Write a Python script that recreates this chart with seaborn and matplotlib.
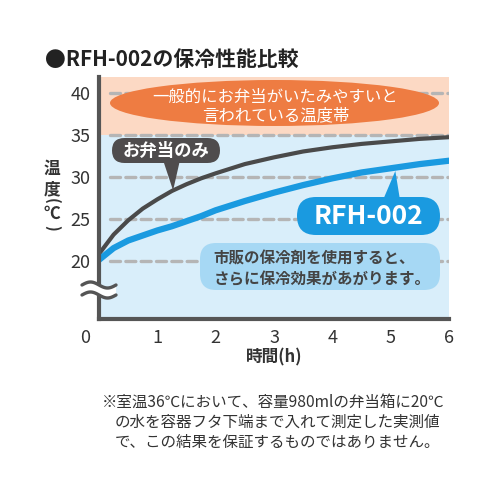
import matplotlib

matplotlib.use("Agg")
import matplotlib.pyplot as plt
import numpy as np
import pandas as pd
import seaborn as sns
from matplotlib.lines import Line2D
from matplotlib.patches import Ellipse, FancyBboxPatch, Polygon
from matplotlib.transforms import ScaledTranslation

# values
HOURS = [0, 0.25, 0.5, 0.75, 1, 1.25, 1.5, 1.75, 2, 2.5, 3, 3.5, 4, 4.5, 5, 5.5, 6]
LUNCH_ONLY = [20.8, 23.1, 24.8, 26.2, 27.3, 28.3, 29.1, 29.8, 30.4, 31.5, 32.3,
              33.0, 33.5, 33.9, 34.2, 34.5, 34.7]
RFH_002 = [20.1, 21.5, 22.4, 23.0, 23.6, 24.1, 24.7, 25.3, 26.0, 27.1, 28.1,
           29.0, 29.8, 30.5, 31.0, 31.5, 31.9]
Y_TICKS = [20, 25, 30, 35, 40]
X_TICKS = [0, 1, 2, 3, 4, 5, 6]
DANGER_FROM = 35

TITLE = "●RFH-002の保冷性能比較"
DANGER_TEXT = "一般的にお弁当がいたみやすいと\n言われている温度帯"
ICE_TEXT = "市販の保冷剤を使用すると、\nさらに保冷効果があがります。"
NOTES = [
    "※室温36℃において、容量980mlの弁当箱に20℃",
    "の水を容器フタ下端まで入れて測定した実測値",
    "で、この結果を保証するものではありません。",
]

DARK = "#555555"
TEXT = "#333333"
ORANGE_BAND = "#fcd9c4"
BLUE_BAND = "#d9eefa"
ORANGE = "#ee7c42"
BLUE = "#1a9ae0"
LIGHT_BOX = "#a6d8f4"
GREY_BOX = "#4f4c4d"
DASH = "#b5b5b5"

sns.set_theme(style="white")
plt.rcParams["font.family"] = ["Noto Sans CJK JP", "DejaVu Sans"]


def fxy(x, y):
    """Pixel position on the 500x500 canvas -> figure fraction."""
    return x / 500, 1 - y / 500


fig = plt.figure(figsize=(5, 5), dpi=100)
ax = fig.add_axes([99 / 500, 1 - 319 / 500, 350 / 500, 242.3 / 500])
ax.set_xlim(0, 6)
ax.set_ylim(13.06, 41.9)

ax.axhspan(DANGER_FROM, 41.9, color=ORANGE_BAND, lw=0, zorder=0)
ax.axhspan(13.06, DANGER_FROM, color=BLUE_BAND, lw=0, zorder=0)
for level in Y_TICKS:
    ax.axhline(level, xmin=0.03, color=DASH, lw=2.4, ls=(0, (3.0, 1.6)),
               dash_capstyle="round", zorder=1)

df = pd.DataFrame({
    "hours": HOURS * 2,
    "temp": LUNCH_ONLY + RFH_002,
    "series": ["お弁当のみ"] * len(HOURS) + ["RFH-002"] * len(HOURS),
})
sns.lineplot(data=df[df["series"] == "お弁当のみ"], x="hours", y="temp",
             color="#4a4a4a", lw=3.0, estimator=None, ax=ax, zorder=5)
sns.lineplot(data=df[df["series"] == "RFH-002"], x="hours", y="temp",
             color=BLUE, lw=4.5, estimator=None, ax=ax, zorder=5)
for line in ax.get_lines():
    line.set_solid_joinstyle("round")

ax.set_xlabel("")
ax.set_ylabel("")
ax.set_xticks(X_TICKS)
ax.set_xticklabels([str(t) for t in X_TICKS])
ax.set_yticks(Y_TICKS)
ax.set_yticklabels([str(t) for t in Y_TICKS])
ax.tick_params(axis="x", direction="in", length=6, width=2.5, color=DARK,
               pad=7, labelsize=13, labelcolor=TEXT)
ax.tick_params(axis="y", length=0, pad=6, labelsize=13, labelcolor=TEXT)
ax.xaxis.get_major_ticks()[0].tick1line.set_visible(False)
zero_label = ax.get_xticklabels()[0]
zero_label.set_transform(zero_label.get_transform()
                         + ScaledTranslation(-14 / 100, 0, fig.dpi_scale_trans))
for side in ("top", "right"):
    ax.spines[side].set_visible(False)
for side in ("left", "bottom"):
    ax.spines[side].set_color(DARK)
    ax.spines[side].set_linewidth(3)
    ax.spines[side].set_zorder(6)

to_fig = fig.transFigure.inverted()


def data_to_fig(x, y):
    return to_fig.transform(ax.transData.transform((x, y)))


def add_box(x0, y0, x1, y1, radius, color):
    box = FancyBboxPatch(fxy(x0, y1), (x1 - x0) / 500, (y1 - y0) / 500,
                         boxstyle=f"round,pad=0,rounding_size={radius / 500}",
                         transform=fig.transFigure, fc=color, ec="none",
                         clip_on=False, zorder=7)
    ax.add_patch(box)


# orange "danger" ellipse
ax.add_patch(Ellipse(fxy(274.5, 103), 329 / 500, 46 / 500, transform=fig.transFigure,
                     fc=ORANGE, ec="none", clip_on=False, zorder=7))
ax.text(*fxy(275.5, 106.5), DANGER_TEXT, transform=fig.transFigure, ha="center",
        va="center", color="white", fontsize=11.8, linespacing=1.05, zorder=8)

# "お弁当のみ" callout
add_box(112, 138, 220, 163, 12.5, GREY_BOX)
tip = data_to_fig(1.27, np.interp(1.27, HOURS, LUNCH_ONLY))
ax.add_patch(Polygon([fxy(163, 160), fxy(180, 160), tip], closed=True,
                     transform=fig.transFigure, fc=GREY_BOX, ec="none",
                     clip_on=False, zorder=7))
ax.text(*fxy(166, 151), "お弁当のみ", transform=fig.transFigure, ha="center",
        va="center", color="white", fontsize=12.5, fontweight="bold", zorder=8)

# "RFH-002" callout
add_box(297, 197, 440, 235, 19, BLUE)
tip = data_to_fig(5.08, np.interp(5.08, HOURS, RFH_002) - 0.4)
ax.add_patch(Polygon([fxy(383, 200), fxy(400, 200), tip], closed=True,
                     transform=fig.transFigure, fc=BLUE, ec="none",
                     clip_on=False, zorder=7))
ax.text(*fxy(368, 217), "RFH-002", transform=fig.transFigure, ha="center",
        va="center", color="white", fontsize=19, fontweight="bold", zorder=8)

# ice pack note
add_box(200, 243, 440, 290, 16, LIGHT_BOX)
ax.text(*fxy(322, 269), ICE_TEXT, transform=fig.transFigure, ha="center",
        va="center", multialignment="left", color="#444444", fontsize=11.2,
        fontweight="bold", linespacing=1.3, zorder=8)

# axis break marks
wave_x = np.linspace(82, 116, 40)
wave = 3 * np.sin(2 * np.pi * (wave_x - 82) / 34)
upper = 285 - wave
lower = 295 - wave
gap = np.concatenate([np.column_stack([wave_x, upper]),
                      np.column_stack([wave_x[::-1], lower[::-1]])])
ax.add_patch(Polygon([fxy(x, y) for x, y in gap], closed=True,
                     transform=fig.transFigure, fc="white", ec="none",
                     clip_on=False, zorder=9))
for ys in (upper, lower):
    fx, fy = fxy(wave_x, ys)
    ax.add_line(Line2D(fx, fy, transform=fig.transFigure, color=DARK, lw=2.4,
                       clip_on=False, zorder=10))

# titles and labels
fig.text(*fxy(45, 59), TITLE, ha="left", va="center", fontsize=15,
         fontweight="bold", color="#222222")
fig.text(*fxy(274, 357), "時間(h)", ha="center", va="center", fontsize=12,
         fontweight="bold", color=TEXT)
for y, ch, rot, size in [(169, "温", 0, 12), (189, "度", 0, 12), (201, "(", -90, 11),
                         (214, "℃", 0, 12), (228, ")", -90, 11)]:
    fig.text(*fxy(52, y), ch, ha="center", va="center", rotation=rot,
             fontsize=size, fontweight="bold", color=TEXT)
for (x, y), line in zip([(102, 402), (115, 422), (115, 442)], NOTES):
    fig.text(*fxy(x, y), line, ha="left", va="center", fontsize=11.2, color=TEXT)

fig.savefig("out.png", dpi=100)
